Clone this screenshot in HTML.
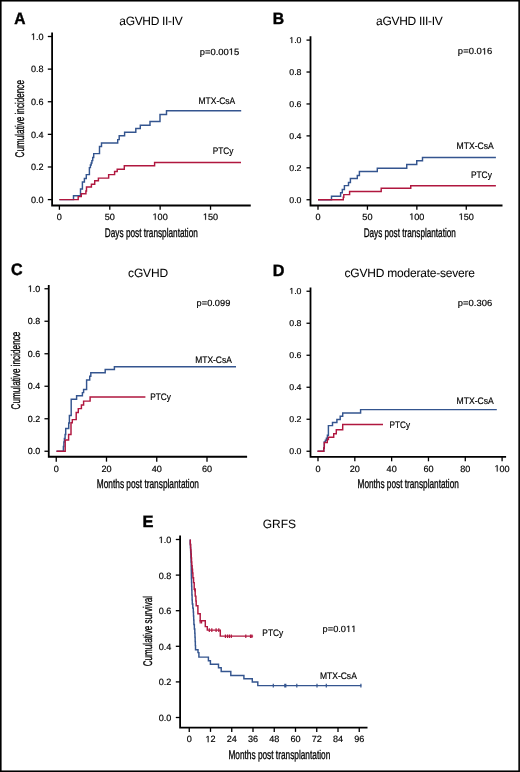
<!DOCTYPE html><html><head><meta charset="utf-8"><style>html,body{margin:0;padding:0;background:#fff}body{width:520px;height:772px;overflow:hidden}svg{display:block;will-change:transform}text{font-family:"Liberation Sans",sans-serif;fill:#000;stroke:#000;stroke-width:0.18px;text-rendering:geometricPrecision}.ax{stroke:#000;stroke-width:0.32px}.tt{stroke-width:0.05px}.pl{stroke:#000;stroke-width:0.45px;fill:#000}</style></head><body>
<svg width="520" height="772" viewBox="0 0 520 772">
<rect x="0.8" y="0.75" width="518.35" height="770.5" fill="none" stroke="#000" stroke-width="1.6"/>
<text x="14.31" y="23.50" font-size="16.5" font-weight="bold" textLength="11.21" lengthAdjust="spacingAndGlyphs" class="pl">A</text>
<text x="119.29" y="25.15" font-size="12.0" textLength="63.36" lengthAdjust="spacing" class="tt">aGVHD II-IV</text>
<path d="M52.10 32.50V205.50H250.75" fill="none" stroke="#000" stroke-width="1.8"/>
<path d="M47.80 199.60H52.10" stroke="#000" stroke-width="1.3"/>
<text x="43.60" y="202.92" font-size="9.1" text-anchor="end" textLength="12.65" lengthAdjust="spacingAndGlyphs">0.0</text>
<path d="M47.80 166.98H52.10" stroke="#000" stroke-width="1.3"/>
<text x="43.60" y="170.30" font-size="9.1" text-anchor="end" textLength="12.65" lengthAdjust="spacingAndGlyphs">0.2</text>
<path d="M47.80 134.36H52.10" stroke="#000" stroke-width="1.3"/>
<text x="43.60" y="137.68" font-size="9.1" text-anchor="end" textLength="12.65" lengthAdjust="spacingAndGlyphs">0.4</text>
<path d="M47.80 101.74H52.10" stroke="#000" stroke-width="1.3"/>
<text x="43.60" y="105.06" font-size="9.1" text-anchor="end" textLength="12.65" lengthAdjust="spacingAndGlyphs">0.6</text>
<path d="M47.80 69.12H52.10" stroke="#000" stroke-width="1.3"/>
<text x="43.60" y="72.44" font-size="9.1" text-anchor="end" textLength="12.65" lengthAdjust="spacingAndGlyphs">0.8</text>
<path d="M47.80 36.50H52.10" stroke="#000" stroke-width="1.3"/>
<path d="M515 0V1237L197 1010V1180L530 1409H696V0Z" fill="#000" stroke="#000" stroke-width="0.18" vector-effect="non-scaling-stroke" transform="translate(30.950 39.820) scale(0.004443 -0.004443)"/>
<text x="43.60" y="39.82" font-size="9.1" text-anchor="end" textLength="12.65" lengthAdjust="spacingAndGlyphs"> .0</text>
<path d="M59.40 205.50V209.80" stroke="#000" stroke-width="1.3"/>
<text x="59.40" y="219.80" font-size="9.1" text-anchor="middle" textLength="5.06" lengthAdjust="spacingAndGlyphs">0</text>
<path d="M109.78 205.50V209.80" stroke="#000" stroke-width="1.3"/>
<text x="109.78" y="219.80" font-size="9.1" text-anchor="middle" textLength="10.12" lengthAdjust="spacingAndGlyphs">50</text>
<path d="M160.15 205.50V209.80" stroke="#000" stroke-width="1.3"/>
<path d="M515 0V1237L197 1010V1180L530 1409H696V0Z" fill="#000" stroke="#000" stroke-width="0.18" vector-effect="non-scaling-stroke" transform="translate(152.560 219.800) scale(0.004442 -0.004443)"/>
<text x="160.15" y="219.80" font-size="9.1" text-anchor="middle" textLength="15.18" lengthAdjust="spacingAndGlyphs"> 00</text>
<path d="M210.53 205.50V209.80" stroke="#000" stroke-width="1.3"/>
<path d="M515 0V1237L197 1010V1180L530 1409H696V0Z" fill="#000" stroke="#000" stroke-width="0.18" vector-effect="non-scaling-stroke" transform="translate(202.940 219.800) scale(0.004442 -0.004443)"/>
<text x="210.53" y="219.80" font-size="9.1" text-anchor="middle" textLength="15.18" lengthAdjust="spacingAndGlyphs"> 50</text>
<path d="M515 0V1237L197 1010V1180L530 1409H696V0Z" fill="#000" stroke="#000" stroke-width="0.18" vector-effect="non-scaling-stroke" transform="translate(228.726 54.700) scale(0.004594 -0.004395)"/>
<text x="199.69" y="54.70" font-size="9.0" textLength="39.50" lengthAdjust="spacingAndGlyphs">p=0.00 5</text>
<text x="198.50" y="103.60" font-size="9.4" textLength="36.73" lengthAdjust="spacingAndGlyphs">MTX-CsA</text>
<text x="212.72" y="153.60" font-size="9.4" textLength="20.60" lengthAdjust="spacingAndGlyphs">PTCy</text>
<text x="104.82" y="236.80" font-size="12.6" textLength="93.03" lengthAdjust="spacingAndGlyphs" class="ax">Days post transplantation</text>
<text transform="translate(23.60 157.41) rotate(-90)" x="0" y="0" font-size="12.6" textLength="77.35" lengthAdjust="spacingAndGlyphs" class="ax">Cumulative incidence</text>
<path d="M59.40 199.60H73.50V195.80H80.50V189.00H82.40V182.00H84.40V178.50H86.30V174.60H89.40V167.60H90.40V164.90H91.20V162.90H91.90V160.60H92.70V157.50H93.70V153.60H99.50V146.40H101.50V143.00H117.70V139.60H119.20V135.80H124.60V132.20H135.80V128.50H140.30V125.20H150.00V121.50H160.00V114.50H166.50V110.80H241.20" fill="none" stroke="#34558f" stroke-width="1.45" stroke-linejoin="miter" stroke-linecap="butt"/>
<path d="M59.40 199.60H78.20V196.60H81.30V193.70H85.90V190.90H86.50V187.00H91.40V184.30H94.70V180.80H98.40V178.10H108.65V174.60H114.60V171.50H117.20V169.20H124.30V165.80H154.60V162.50H241.00" fill="none" stroke="#b0173f" stroke-width="1.45" stroke-linejoin="miter" stroke-linecap="butt"/>
<text x="272.84" y="23.70" font-size="16.5" font-weight="bold" textLength="11.37" lengthAdjust="spacingAndGlyphs" class="pl">B</text>
<text x="375.99" y="25.20" font-size="12.0" textLength="66.87" lengthAdjust="spacing" class="tt">aGVHD III-IV</text>
<path d="M310.50 36.25V205.50H502.50" fill="none" stroke="#000" stroke-width="1.8"/>
<path d="M306.50 199.75H310.50" stroke="#000" stroke-width="1.3"/>
<text x="301.50" y="202.65" font-size="8.4" text-anchor="end" textLength="12.26" lengthAdjust="spacingAndGlyphs">0.0</text>
<path d="M306.50 167.82H310.50" stroke="#000" stroke-width="1.3"/>
<text x="301.50" y="170.72" font-size="8.4" text-anchor="end" textLength="12.26" lengthAdjust="spacingAndGlyphs">0.2</text>
<path d="M306.50 135.89H310.50" stroke="#000" stroke-width="1.3"/>
<text x="301.50" y="138.79" font-size="8.4" text-anchor="end" textLength="12.26" lengthAdjust="spacingAndGlyphs">0.4</text>
<path d="M306.50 103.96H310.50" stroke="#000" stroke-width="1.3"/>
<text x="301.50" y="106.86" font-size="8.4" text-anchor="end" textLength="12.26" lengthAdjust="spacingAndGlyphs">0.6</text>
<path d="M306.50 72.03H310.50" stroke="#000" stroke-width="1.3"/>
<text x="301.50" y="74.93" font-size="8.4" text-anchor="end" textLength="12.26" lengthAdjust="spacingAndGlyphs">0.8</text>
<path d="M306.50 40.10H310.50" stroke="#000" stroke-width="1.3"/>
<path d="M515 0V1237L197 1010V1180L530 1409H696V0Z" fill="#000" stroke="#000" stroke-width="0.18" vector-effect="non-scaling-stroke" transform="translate(289.240 43.000) scale(0.004306 -0.004102)"/>
<text x="301.50" y="43.00" font-size="8.4" text-anchor="end" textLength="12.26" lengthAdjust="spacingAndGlyphs"> .0</text>
<path d="M318.00 205.50V209.80" stroke="#000" stroke-width="1.3"/>
<text x="318.00" y="219.70" font-size="9.1" text-anchor="middle" textLength="5.06" lengthAdjust="spacingAndGlyphs">0</text>
<path d="M367.43 205.50V209.80" stroke="#000" stroke-width="1.3"/>
<text x="367.43" y="219.70" font-size="9.1" text-anchor="middle" textLength="10.12" lengthAdjust="spacingAndGlyphs">50</text>
<path d="M416.85 205.50V209.80" stroke="#000" stroke-width="1.3"/>
<path d="M515 0V1237L197 1010V1180L530 1409H696V0Z" fill="#000" stroke="#000" stroke-width="0.18" vector-effect="non-scaling-stroke" transform="translate(409.260 219.700) scale(0.004442 -0.004443)"/>
<text x="416.85" y="219.70" font-size="9.1" text-anchor="middle" textLength="15.18" lengthAdjust="spacingAndGlyphs"> 00</text>
<path d="M466.27 205.50V209.80" stroke="#000" stroke-width="1.3"/>
<path d="M515 0V1237L197 1010V1180L530 1409H696V0Z" fill="#000" stroke="#000" stroke-width="0.18" vector-effect="non-scaling-stroke" transform="translate(458.680 219.700) scale(0.004442 -0.004443)"/>
<text x="466.27" y="219.70" font-size="9.1" text-anchor="middle" textLength="15.18" lengthAdjust="spacingAndGlyphs"> 50</text>
<path d="M515 0V1237L197 1010V1180L530 1409H696V0Z" fill="#000" stroke="#000" stroke-width="0.18" vector-effect="non-scaling-stroke" transform="translate(481.859 54.400) scale(0.004627 -0.004395)"/>
<text x="457.88" y="54.40" font-size="9.0" textLength="34.52" lengthAdjust="spacingAndGlyphs">p=0.0 6</text>
<text x="456.49" y="148.70" font-size="9.4" textLength="37.24" lengthAdjust="spacingAndGlyphs">MTX-CsA</text>
<text x="470.91" y="178.30" font-size="9.4" textLength="20.91" lengthAdjust="spacingAndGlyphs">PTCy</text>
<text x="363.63" y="236.80" font-size="12.6" textLength="92.22" lengthAdjust="spacingAndGlyphs" class="ax">Days post transplantation</text>
<path d="M318.00 199.80H331.50V196.30H340.60V192.80H342.30V189.50H344.40V185.60H348.50V182.50H350.40V178.50H357.30V175.40H359.40V171.50H377.30V168.20H406.75V164.50H416.75V160.80H422.50V157.50H495.90" fill="none" stroke="#34558f" stroke-width="1.45" stroke-linejoin="miter" stroke-linecap="butt"/>
<path d="M318.00 199.80H343.30V197.30H343.80V194.60H349.60V191.40H381.20V188.30H410.75V185.75H495.90" fill="none" stroke="#b0173f" stroke-width="1.45" stroke-linejoin="miter" stroke-linecap="butt"/>
<text x="10.96" y="274.90" font-size="16.5" font-weight="bold" textLength="11.58" lengthAdjust="spacingAndGlyphs" class="pl">C</text>
<text x="127.99" y="276.80" font-size="12.0" textLength="40.27" lengthAdjust="spacing" class="tt">cGVHD</text>
<path d="M48.75 285.00V456.75H247.10" fill="none" stroke="#000" stroke-width="1.8"/>
<path d="M44.45 451.25H48.75" stroke="#000" stroke-width="1.3"/>
<text x="40.25" y="454.21" font-size="8.9" text-anchor="end" textLength="12.37" lengthAdjust="spacingAndGlyphs">0.0</text>
<path d="M44.45 418.75H48.75" stroke="#000" stroke-width="1.3"/>
<text x="40.25" y="421.71" font-size="8.9" text-anchor="end" textLength="12.37" lengthAdjust="spacingAndGlyphs">0.2</text>
<path d="M44.45 386.25H48.75" stroke="#000" stroke-width="1.3"/>
<text x="40.25" y="389.21" font-size="8.9" text-anchor="end" textLength="12.37" lengthAdjust="spacingAndGlyphs">0.4</text>
<path d="M44.45 353.75H48.75" stroke="#000" stroke-width="1.3"/>
<text x="40.25" y="356.71" font-size="8.9" text-anchor="end" textLength="12.37" lengthAdjust="spacingAndGlyphs">0.6</text>
<path d="M44.45 321.25H48.75" stroke="#000" stroke-width="1.3"/>
<text x="40.25" y="324.21" font-size="8.9" text-anchor="end" textLength="12.37" lengthAdjust="spacingAndGlyphs">0.8</text>
<path d="M44.45 288.75H48.75" stroke="#000" stroke-width="1.3"/>
<path d="M515 0V1237L197 1010V1180L530 1409H696V0Z" fill="#000" stroke="#000" stroke-width="0.18" vector-effect="non-scaling-stroke" transform="translate(27.880 291.710) scale(0.004345 -0.004346)"/>
<text x="40.25" y="291.71" font-size="8.9" text-anchor="end" textLength="12.37" lengthAdjust="spacingAndGlyphs"> .0</text>
<path d="M56.25 456.75V461.65" stroke="#000" stroke-width="1.3"/>
<text x="56.25" y="471.80" font-size="9.1" text-anchor="middle" textLength="5.06" lengthAdjust="spacingAndGlyphs">0</text>
<path d="M106.50 456.75V461.65" stroke="#000" stroke-width="1.3"/>
<text x="106.50" y="471.80" font-size="9.1" text-anchor="middle" textLength="10.12" lengthAdjust="spacingAndGlyphs">20</text>
<path d="M156.75 456.75V461.65" stroke="#000" stroke-width="1.3"/>
<text x="156.75" y="471.80" font-size="9.1" text-anchor="middle" textLength="10.12" lengthAdjust="spacingAndGlyphs">40</text>
<path d="M207.00 456.75V461.65" stroke="#000" stroke-width="1.3"/>
<text x="207.00" y="471.80" font-size="9.1" text-anchor="middle" textLength="10.12" lengthAdjust="spacingAndGlyphs">60</text>
<text x="196.60" y="305.60" font-size="9.0" textLength="33.72" lengthAdjust="spacingAndGlyphs">p=0.099</text>
<text x="195.20" y="362.70" font-size="9.4" textLength="36.62" lengthAdjust="spacingAndGlyphs">MTX-CsA</text>
<text x="150.22" y="400.10" font-size="9.4" textLength="20.70" lengthAdjust="spacingAndGlyphs">PTCy</text>
<text x="96.81" y="488.00" font-size="12.6" textLength="102.13" lengthAdjust="spacingAndGlyphs" class="ax">Months post transplantation</text>
<text transform="translate(20.40 409.51) rotate(-90)" x="0" y="0" font-size="12.6" textLength="77.86" lengthAdjust="spacingAndGlyphs" class="ax">Cumulative incidence</text>
<path d="M56.50 451.30H63.40V446.50H63.90V442.00H64.40V438.50H65.10V434.50H65.70V428.40H68.70V423.00H69.40V415.40H71.20V399.20H76.60V395.70H82.40V392.60H83.60V389.40H86.60V380.00H89.70V376.20H90.80V372.80H105.20V369.40H114.40V366.70H236.00" fill="none" stroke="#34558f" stroke-width="1.45" stroke-linejoin="miter" stroke-linecap="butt"/>
<path d="M56.50 451.30H65.20V440.00H68.60V434.40H71.00V422.70H72.30V419.60H76.20V412.50H78.30V408.60H81.40V405.00H83.60V401.10H90.10V396.90H145.40" fill="none" stroke="#b0173f" stroke-width="1.45" stroke-linejoin="miter" stroke-linecap="butt"/>
<text x="272.71" y="275.60" font-size="16.5" font-weight="bold" textLength="11.67" lengthAdjust="spacingAndGlyphs" class="pl">D</text>
<text x="344.59" y="277.00" font-size="12.0" textLength="130.44" lengthAdjust="spacing" class="tt">cGVHD moderate-severe</text>
<path d="M310.50 287.50V456.80H506.10" fill="none" stroke="#000" stroke-width="1.8"/>
<path d="M306.50 451.25H310.50" stroke="#000" stroke-width="1.3"/>
<text x="301.50" y="453.85" font-size="8.4" text-anchor="end" textLength="12.26" lengthAdjust="spacingAndGlyphs">0.0</text>
<path d="M306.50 419.25H310.50" stroke="#000" stroke-width="1.3"/>
<text x="301.50" y="421.85" font-size="8.4" text-anchor="end" textLength="12.26" lengthAdjust="spacingAndGlyphs">0.2</text>
<path d="M306.50 387.25H310.50" stroke="#000" stroke-width="1.3"/>
<text x="301.50" y="389.85" font-size="8.4" text-anchor="end" textLength="12.26" lengthAdjust="spacingAndGlyphs">0.4</text>
<path d="M306.50 355.25H310.50" stroke="#000" stroke-width="1.3"/>
<text x="301.50" y="357.85" font-size="8.4" text-anchor="end" textLength="12.26" lengthAdjust="spacingAndGlyphs">0.6</text>
<path d="M306.50 323.25H310.50" stroke="#000" stroke-width="1.3"/>
<text x="301.50" y="325.85" font-size="8.4" text-anchor="end" textLength="12.26" lengthAdjust="spacingAndGlyphs">0.8</text>
<path d="M306.50 291.25H310.50" stroke="#000" stroke-width="1.3"/>
<path d="M515 0V1237L197 1010V1180L530 1409H696V0Z" fill="#000" stroke="#000" stroke-width="0.18" vector-effect="non-scaling-stroke" transform="translate(289.240 293.850) scale(0.004306 -0.004102)"/>
<text x="301.50" y="293.85" font-size="8.4" text-anchor="end" textLength="12.26" lengthAdjust="spacingAndGlyphs"> .0</text>
<path d="M318.00 456.80V461.30" stroke="#000" stroke-width="1.3"/>
<text x="318.00" y="471.60" font-size="9.1" text-anchor="middle" textLength="5.06" lengthAdjust="spacingAndGlyphs">0</text>
<path d="M354.82 456.80V461.30" stroke="#000" stroke-width="1.3"/>
<text x="354.82" y="471.60" font-size="9.1" text-anchor="middle" textLength="10.12" lengthAdjust="spacingAndGlyphs">20</text>
<path d="M391.64 456.80V461.30" stroke="#000" stroke-width="1.3"/>
<text x="391.64" y="471.60" font-size="9.1" text-anchor="middle" textLength="10.12" lengthAdjust="spacingAndGlyphs">40</text>
<path d="M428.46 456.80V461.30" stroke="#000" stroke-width="1.3"/>
<text x="428.46" y="471.60" font-size="9.1" text-anchor="middle" textLength="10.12" lengthAdjust="spacingAndGlyphs">60</text>
<path d="M465.28 456.80V461.30" stroke="#000" stroke-width="1.3"/>
<text x="465.28" y="471.60" font-size="9.1" text-anchor="middle" textLength="10.12" lengthAdjust="spacingAndGlyphs">80</text>
<path d="M502.10 456.80V461.30" stroke="#000" stroke-width="1.3"/>
<path d="M515 0V1237L197 1010V1180L530 1409H696V0Z" fill="#000" stroke="#000" stroke-width="0.18" vector-effect="non-scaling-stroke" transform="translate(494.510 471.600) scale(0.004442 -0.004443)"/>
<text x="502.10" y="471.60" font-size="9.1" text-anchor="middle" textLength="15.18" lengthAdjust="spacingAndGlyphs"> 00</text>
<text x="457.89" y="305.60" font-size="9.0" textLength="34.31" lengthAdjust="spacingAndGlyphs">p=0.306</text>
<text x="456.49" y="403.60" font-size="9.4" textLength="37.24" lengthAdjust="spacingAndGlyphs">MTX-CsA</text>
<text x="389.52" y="427.60" font-size="9.4" textLength="20.50" lengthAdjust="spacingAndGlyphs">PTCy</text>
<text x="357.52" y="488.20" font-size="12.6" textLength="101.32" lengthAdjust="spacingAndGlyphs" class="ax">Months post transplantation</text>
<path d="M317.50 451.30H323.80V448.00H324.30V441.90H325.40V440.30H326.40V438.30H327.40V435.30H328.40V425.60H332.50V422.50H336.90V419.40H340.20V416.20H342.70V412.90H360.60V409.60H496.80" fill="none" stroke="#34558f" stroke-width="1.45" stroke-linejoin="miter" stroke-linecap="butt"/>
<path d="M317.50 451.30H323.80V448.00H324.30V442.40H327.30V439.50H328.40V437.20H333.70V433.70H336.30V429.80H342.70V424.50H383.00" fill="none" stroke="#b0173f" stroke-width="1.45" stroke-linejoin="miter" stroke-linecap="butt"/>
<text x="142.44" y="526.80" font-size="16.5" font-weight="bold" textLength="10.96" lengthAdjust="spacingAndGlyphs" class="pl">E</text>
<text x="262.80" y="528.00" font-size="12.0" textLength="33.27" lengthAdjust="spacing" class="tt">GRFS</text>
<path d="M180.10 535.50V727.60H367.50" fill="none" stroke="#000" stroke-width="1.8"/>
<path d="M175.80 717.50H180.10" stroke="#000" stroke-width="1.3"/>
<text x="171.30" y="720.92" font-size="9.1" text-anchor="end" textLength="12.65" lengthAdjust="spacingAndGlyphs">0.0</text>
<path d="M175.80 681.90H180.10" stroke="#000" stroke-width="1.3"/>
<text x="171.30" y="685.32" font-size="9.1" text-anchor="end" textLength="12.65" lengthAdjust="spacingAndGlyphs">0.2</text>
<path d="M175.80 646.30H180.10" stroke="#000" stroke-width="1.3"/>
<text x="171.30" y="649.72" font-size="9.1" text-anchor="end" textLength="12.65" lengthAdjust="spacingAndGlyphs">0.4</text>
<path d="M175.80 610.70H180.10" stroke="#000" stroke-width="1.3"/>
<text x="171.30" y="614.12" font-size="9.1" text-anchor="end" textLength="12.65" lengthAdjust="spacingAndGlyphs">0.6</text>
<path d="M175.80 575.10H180.10" stroke="#000" stroke-width="1.3"/>
<text x="171.30" y="578.52" font-size="9.1" text-anchor="end" textLength="12.65" lengthAdjust="spacingAndGlyphs">0.8</text>
<path d="M175.80 539.50H180.10" stroke="#000" stroke-width="1.3"/>
<path d="M515 0V1237L197 1010V1180L530 1409H696V0Z" fill="#000" stroke="#000" stroke-width="0.18" vector-effect="non-scaling-stroke" transform="translate(158.650 542.920) scale(0.004443 -0.004443)"/>
<text x="171.30" y="542.92" font-size="9.1" text-anchor="end" textLength="12.65" lengthAdjust="spacingAndGlyphs"> .0</text>
<path d="M189.25 727.60V731.90" stroke="#000" stroke-width="1.3"/>
<text x="189.25" y="742.20" font-size="9.1" text-anchor="middle" textLength="5.06" lengthAdjust="spacingAndGlyphs">0</text>
<path d="M210.50 727.60V731.90" stroke="#000" stroke-width="1.3"/>
<path d="M515 0V1237L197 1010V1180L530 1409H696V0Z" fill="#000" stroke="#000" stroke-width="0.18" vector-effect="non-scaling-stroke" transform="translate(205.440 742.200) scale(0.004442 -0.004443)"/>
<text x="210.50" y="742.20" font-size="9.1" text-anchor="middle" textLength="10.12" lengthAdjust="spacingAndGlyphs"> 2</text>
<path d="M231.75 727.60V731.90" stroke="#000" stroke-width="1.3"/>
<text x="231.75" y="742.20" font-size="9.1" text-anchor="middle" textLength="10.12" lengthAdjust="spacingAndGlyphs">24</text>
<path d="M253.00 727.60V731.90" stroke="#000" stroke-width="1.3"/>
<text x="253.00" y="742.20" font-size="9.1" text-anchor="middle" textLength="10.12" lengthAdjust="spacingAndGlyphs">36</text>
<path d="M274.25 727.60V731.90" stroke="#000" stroke-width="1.3"/>
<text x="274.25" y="742.20" font-size="9.1" text-anchor="middle" textLength="10.12" lengthAdjust="spacingAndGlyphs">48</text>
<path d="M295.50 727.60V731.90" stroke="#000" stroke-width="1.3"/>
<text x="295.50" y="742.20" font-size="9.1" text-anchor="middle" textLength="10.12" lengthAdjust="spacingAndGlyphs">60</text>
<path d="M316.75 727.60V731.90" stroke="#000" stroke-width="1.3"/>
<text x="316.75" y="742.20" font-size="9.1" text-anchor="middle" textLength="10.12" lengthAdjust="spacingAndGlyphs">72</text>
<path d="M338.00 727.60V731.90" stroke="#000" stroke-width="1.3"/>
<text x="338.00" y="742.20" font-size="9.1" text-anchor="middle" textLength="10.12" lengthAdjust="spacingAndGlyphs">84</text>
<path d="M359.25 727.60V731.90" stroke="#000" stroke-width="1.3"/>
<text x="359.25" y="742.20" font-size="9.1" text-anchor="middle" textLength="10.12" lengthAdjust="spacingAndGlyphs">96</text>
<path d="M515 0V1237L197 1010V1180L530 1409H696V0Z" fill="#000" stroke="#000" stroke-width="0.18" vector-effect="non-scaling-stroke" transform="translate(346.038 631.900) scale(0.004527 -0.004395)"/>
<path d="M515 0V1237L197 1010V1180L530 1409H696V0Z" fill="#000" stroke="#000" stroke-width="0.18" vector-effect="non-scaling-stroke" transform="translate(351.194 631.900) scale(0.004527 -0.004395)"/>
<text x="322.58" y="631.90" font-size="9.0" textLength="33.77" lengthAdjust="spacingAndGlyphs">p=0.0  </text>
<text x="319.90" y="679.30" font-size="9.4" textLength="36.93" lengthAdjust="spacingAndGlyphs">MTX-CsA</text>
<text x="262.31" y="636.40" font-size="9.4" textLength="20.91" lengthAdjust="spacingAndGlyphs">PTCy</text>
<text x="228.42" y="758.60" font-size="12.6" textLength="101.83" lengthAdjust="spacingAndGlyphs" class="ax">Months post transplantation</text>
<text transform="translate(151.60 666.31) rotate(-90)" x="0" y="0" font-size="12.6" textLength="70.45" lengthAdjust="spacingAndGlyphs" class="ax">Cumulative survival</text>
<path d="M190.20 539.60V543.73H190.43V547.87H190.67V552.00H190.90V557.00H191.05V562.00H191.20V566.33H191.27V570.67H191.33V575.00H191.40V578.75H191.53V582.50H191.65V586.25H191.78V590.00H191.90V595.00H192.10V600.00H192.30V604.05H192.80V608.10H193.30V612.03H193.50V615.97H193.70V619.90H193.90V624.45H194.35V629.00H194.80V633.16H194.98V637.32H195.16V641.48H195.34V645.64H195.52V649.80H195.70H198V652.6H198.9V657.1H208.4V660.8H210.4V664.3H218.5V667.7H221.2V671.5H230.8V675.4H243.9V678.8H252.3V682H257.8V685.6H361.25" fill="none" stroke="#34558f" stroke-width="1.45" stroke-linejoin="miter" stroke-linecap="butt"/>
<path d="M190.30 539.60V544.80H190.65V550.00H191.00V554.00H191.27V558.00H191.53V562.00H191.80V565.67H192.17V569.33H192.53V573.00H192.90V577.80H193.55V582.60H194.20V589.30H195.20V596.10H195.90V600.90H196.20V605.70H196.50H197.9V613.8H200.2V620.8H205.3V626.6H207.3V630.1H220.3V636.1H253.1" fill="none" stroke="#b0173f" stroke-width="1.45" stroke-linejoin="miter" stroke-linecap="butt"/>
<path d="M200.20 619.90V623.50M201.60 619.90V623.50" stroke="#b0173f" stroke-width="1.2"/>
<path d="M209.30 628.30V631.90M211.80 628.30V631.90M216.10 628.30V631.90M218.80 628.30V631.90" stroke="#b0173f" stroke-width="1.2"/>
<path d="M225.40 634.40V638.00M227.50 634.40V638.00M229.40 634.40V638.00M231.30 634.40V638.00M245.80 634.40V638.00M250.50 634.40V638.00M251.90 634.40V638.00" stroke="#b0173f" stroke-width="1.2"/>
<path d="M194.80 588.00V591.60" stroke="#b0173f" stroke-width="1.2"/>
<path d="M273.30 683.80V687.40M284.80 683.80V687.40M285.80 683.80V687.40M296.80 683.80V687.40M317.00 683.80V687.40M326.30 683.80V687.40M360.90 683.80V687.40" stroke="#34558f" stroke-width="1.2"/>
</svg></body></html>
